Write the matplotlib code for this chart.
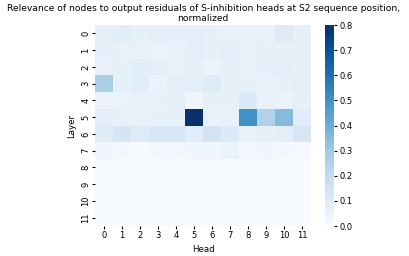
import numpy as np
import matplotlib
matplotlib.use("Agg")
import matplotlib.pyplot as plt
import seaborn as sns

heads = list(range(12))
layers = list(range(12))

row0 = [0.07, 0.09, 0.07, 0.08, 0.08, 0.08, 0.07, 0.06, 0.06, 0.06, 0.10, 0.07]
row1 = [0.08, 0.06, 0.06, 0.05, 0.06, 0.08, 0.07, 0.08, 0.06, 0.07, 0.07, 0.07]
row2 = [0.06, 0.07, 0.09, 0.08, 0.06, 0.07, 0.05, 0.07, 0.06, 0.08, 0.08, 0.07]
row3 = [0.27, 0.07, 0.09, 0.05, 0.08, 0.08, 0.10, 0.07, 0.07, 0.06, 0.07, 0.08]
row4 = [0.05, 0.05, 0.06, 0.06, 0.08, 0.04, 0.07, 0.07, 0.11, 0.06, 0.05, 0.07]
row5 = [0.08, 0.06, 0.06, 0.07, 0.07, 0.80, 0.06, 0.06, 0.50, 0.25, 0.35, 0.09]
row6 = [0.10, 0.14, 0.10, 0.13, 0.13, 0.09, 0.15, 0.11, 0.06, 0.07, 0.08, 0.13]
row7 = [0.03, 0.02, 0.01, 0.02, 0.02, 0.03, 0.03, 0.05, 0.02, 0.03, 0.02, 0.01]
zeros = [0.0] * 12

relevance = np.array([row0, row1, row2, row3, row4, row5, row6, row7,
                      zeros, zeros, zeros, zeros])

fig = plt.figure(figsize=(4.1, 2.56), dpi=100)
ax = fig.add_axes([0.232, 0.117, 0.527, 0.785])
cax = fig.add_axes([0.793, 0.117, 0.022, 0.785])

sns.heatmap(relevance, cmap="Blues", vmin=0, vmax=0.8, ax=ax, cbar_ax=cax,
            xticklabels=heads, yticklabels=layers)

ax.set_title("Relevance of nodes to output residuals of S-inhibition heads at S2 sequence position,\nnormalized",
             fontsize=6.6, pad=3)
ax.set_xlabel("Head", fontsize=6.2)
ax.set_ylabel("Layer", fontsize=6.2)
ax.tick_params(labelsize=6, length=2, pad=1.5)
ax.tick_params(axis="y", labelrotation=90)
cax.tick_params(labelsize=6, length=2, pad=1.5)
cax.set_yticks(np.arange(0, 0.81, 0.1))

fig.savefig("out.png", dpi=100)
